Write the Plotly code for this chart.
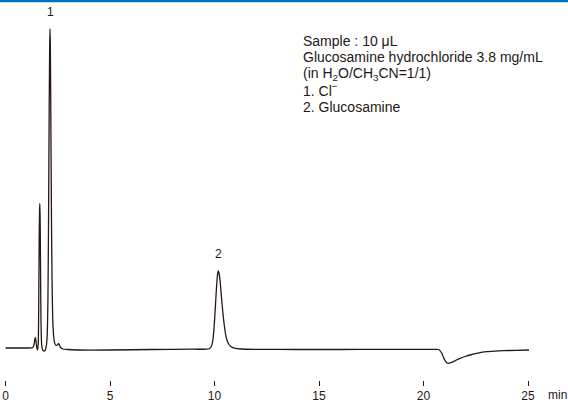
import plotly.graph_objects as go

# Chromatogram (time in min, detector signal in arbitrary units)
time_min = [0.0, 0.5, 1.0, 1.3, 1.36, 1.40, 1.43, 1.46, 1.50, 1.54, 1.57, 1.59, 1.61, 1.63, 1.645,
            1.66, 1.68, 1.70, 1.73, 1.77, 1.82, 1.88, 1.94, 1.99, 2.03, 2.06, 2.09, 2.115, 2.13,
            2.145, 2.17, 2.20, 2.23, 2.27, 2.32, 2.38, 2.44, 2.50, 2.54, 2.58, 2.64, 2.75, 2.95,
            3.5, 5.0, 7.0, 9.0, 9.6, 9.75, 9.85, 9.92, 9.98, 10.04, 10.09, 10.14, 10.18, 10.22,
            10.27, 10.33, 10.40, 10.47, 10.55, 10.65, 10.78, 10.95, 11.3, 12.0, 14.0, 16.0, 18.0,
            19.8, 20.55, 20.72, 20.87, 20.96, 21.03, 21.11, 21.19, 21.28, 21.43, 21.58, 21.75,
            21.98, 22.22, 22.6, 23.02, 23.4, 23.82, 24.4, 25.05]
signal = [1.5, 1.5, 1.5, 1.8, 4.5, 9.5, 12.0, 8.0, 1.5, -0.5, 8.0, 45.0, 105.0, 140.0, 146.0,
          125.0, 70.0, 25.0, 5.0, 0.0, -1.5, -1.5, 2.0, 12.0, 50.0, 130.0, 240.0, 305.0, 320.5,
          305.0, 230.0, 130.0, 65.0, 25.0, 10.0, 5.0, 4.0, 5.0, 6.0, 4.5, 2.0, 0.5, 0.0,
          -0.5, -0.5, 0.0, 0.3, 0.3, 0.8, 3.0, 9.0, 22.0, 42.0, 60.0, 74.0, 78.5, 76.0,
          68.0, 53.0, 37.0, 24.0, 13.0, 6.5, 3.0, 1.3, 0.5, 0.2, 0.0, 0.0, 0.2,
          0.2, 0.2, 0.0, -3.5, -8.0, -11.0, -13.2, -13.8, -13.4, -12.2, -10.5, -8.8,
          -7.0, -5.5, -3.6, -2.2, -1.6, -1.2, -0.8, -0.5]

tick_vals = [0, 5, 10, 15, 20, 25]
tick_text = ["0", "5", "10", "15", "20", "25"]

peak_times = [2.13, 10.18]
peak_heights = [320.5, 78.5]
peak_labels = ["1", "2"]

info_lines = [
    "Sample : 10 μL",
    "Glucosamine hydrochloride 3.8 mg/mL",
    "(in H<sub>2</sub>O/CH<sub>3</sub>CN=1/1)",
    "1. Cl<sup>−</sup>",
    "2. Glucosamine",
]

ink = "#231815"
FONT = "Liberation Sans, Arial, sans-serif"
W, H = 568, 402
plot_h = 380  # plot area bottom pixel (margin t=0)
px_per_min = 20.9
x0_px = 5.5
baseline_px = 349.5

fig = go.Figure()
fig.add_trace(go.Scatter(x=time_min, y=signal, mode="lines",
                         line=dict(color=ink, width=1.3, shape="spline", smoothing=0.6),
                         hoverinfo="skip", showlegend=False))

for t, h, lab in zip(peak_times, peak_heights, peak_labels):
    fig.add_annotation(x=t, y=h, text=lab, showarrow=False, yanchor="bottom", yshift=8,
                       font=dict(size=12, color=ink, family=FONT))

line_y0 = 40.5
line_step = 16.6
for i, txt in enumerate(info_lines):
    ypx = line_y0 + i * line_step
    fig.add_annotation(x=304 / W, y=(plot_h - ypx) / plot_h, xref="paper", yref="paper",
                       text=txt, showarrow=False, xanchor="left", yanchor="middle",
                       xshift=-2, borderpad=0,
                       font=dict(size=14, color=ink, family=FONT))

fig.add_annotation(x=557 / W, y=(plot_h - 394.5) / plot_h, xref="paper", yref="paper",
                   text="min", showarrow=False, xanchor="center", yanchor="middle",
                   font=dict(size=12, color=ink, family=FONT))

# blue rule at the top of the page
fig.add_shape(type="rect", xref="paper", yref="paper", x0=0, x1=1,
              y0=1 - 2.2 / plot_h, y1=1, fillcolor="#0071BC", line=dict(width=0), layer="above")

x_lo = -x0_px / px_per_min
x_hi = x_lo + W / px_per_min
y_hi = baseline_px
y_lo = -(plot_h - baseline_px)

fig.update_layout(
    width=W, height=H,
    margin=dict(l=0, r=0, t=0, b=H - plot_h, autoexpand=False),
    paper_bgcolor="white", plot_bgcolor="white",
    xaxis=dict(range=[x_lo, x_hi], tickvals=tick_vals, ticktext=tick_text,
               ticks="outside", ticklen=5, tickwidth=1, tickcolor=ink,
               showline=False, showgrid=False, zeroline=False, automargin=False,
               tickfont=dict(size=12, color=ink, family=FONT)),
    yaxis=dict(range=[y_lo, y_hi], visible=False, showgrid=False, zeroline=False,
               automargin=False),
)

fig.write_html("out.html", config={"displayModeBar": False, "staticPlot": True},
               post_script="document.body.style.margin='0';document.body.style.overflow='hidden';")
